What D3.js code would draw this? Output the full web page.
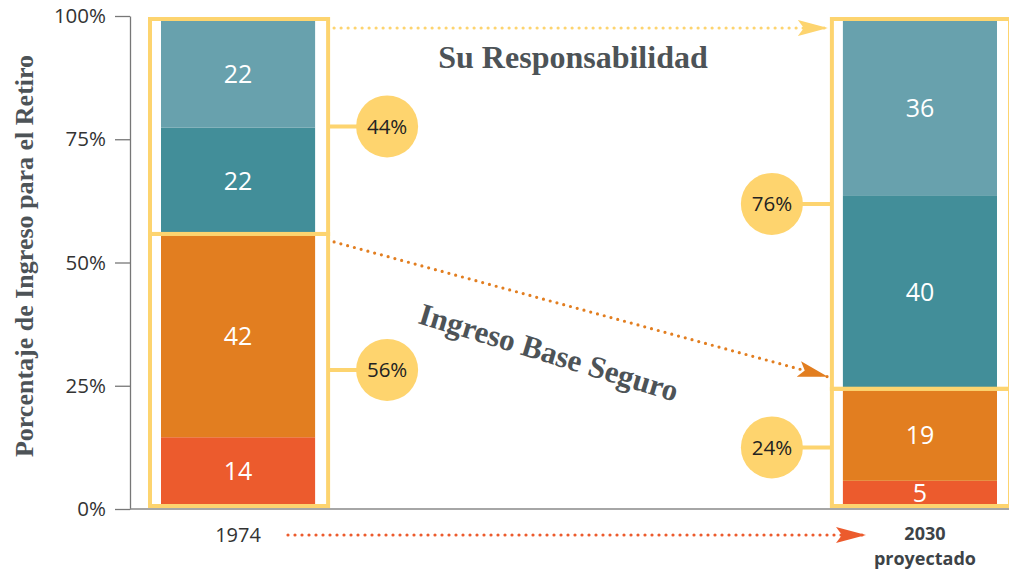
<!DOCTYPE html>
<html lang="es">
<head>
<meta charset="UTF-8">
<title>Porcentaje de Ingreso para el Retiro</title>
<script src="https://cdn.jsdelivr.net/npm/d3@7"></script>
<style>
  body { margin:0; background:#fff; }
  svg { display:block; }
  .sans { font-family: "Open Sans", "Noto Sans", sans-serif; }
  .serif { font-family: "Liberation Serif", "DejaVu Serif", serif; font-weight: bold; fill:#4d5357; }
</style>
</head>
<body>
<svg id="chart" width="1009" height="571"></svg>
<script>
// datos
const years = ["1974", "2030"];
const yearLabels = [["1974"], ["2030", "proyectado"]];
const layers = ["base1", "base2", "resp1", "resp2"];   // de abajo hacia arriba
const values1974 = [14, 42, 22, 22];
const values2030 = [5, 19, 40, 36];
const groups = [["base1", "base2"], ["resp1", "resp2"]]; // Ingreso Base Seguro / Su Responsabilidad
const yTicks = [0, 25, 50, 75, 100];

const colors = { base1: "#ec5b2d", base2: "#e27e20", resp1: "#428e99", resp2: "#68a1ad" };
const yellow = "#fdd46f";

const svg = d3.select("#chart");

const yAxisScale = d3.scaleLinear().domain([0, 100]).range([509, 16]);
const y = d3.scaleLinear().domain([0, 100]).range([505, 21]);
const x = d3.scaleBand().domain(years).range([161, 997]).paddingInner(0.774);

const rows = years.map((yr, i) => {
  const vals = i === 0 ? values1974 : values2030;
  const r = { year: yr };
  layers.forEach((k, j) => r[k] = vals[j]);
  return r;
});
const stack = d3.stack().keys(layers)(rows);

// eje y
const axis = svg.append("g")
  .attr("transform", "translate(130,0)")
  .call(d3.axisLeft(yAxisScale).tickValues(yTicks).tickFormat(d => d + "%").tickSize(15).tickSizeOuter(0).tickPadding(9));
axis.select(".domain").attr("stroke", "#777").attr("stroke-width", 1.3);
axis.selectAll(".tick line").attr("stroke", "#777").attr("stroke-width", 1.3);
axis.selectAll(".tick text").attr("class", "sans").attr("font-size", 20.5).attr("fill", "#333");

// línea base
svg.append("line")
  .attr("x1", 130).attr("x2", 1009)
  .attr("y1", yAxisScale(0)).attr("y2", yAxisScale(0))
  .attr("stroke", "#888").attr("stroke-width", 1.5);

// barras apiladas
stack.forEach(layer => {
  svg.append("g").selectAll("rect")
    .data(layer)
    .join("rect")
      .attr("x", d => x(d.data.year))
      .attr("width", x.bandwidth())
      .attr("y", d => y(d[1]))
      .attr("height", d => y(d[0]) - y(d[1]))
      .attr("fill", colors[layer.key]);
  svg.append("g").selectAll("text")
    .data(layer)
    .join("text")
      .attr("class", "sans")
      .attr("x", d => x(d.data.year) + x.bandwidth() / 2)
      .attr("y", d => (y(d[0]) + y(d[1])) / 2)
      .attr("dy", "0.36em")
      .attr("text-anchor", "middle")
      .attr("font-size", 25)
      .attr("fill", "#fff")
      .text(d => d[1] - d[0]);
});

// marcos amarillos y círculos
const marker = (id, col) => {
  svg.append("defs").append("marker")
    .attr("id", id)
    .attr("viewBox", "-30 -9 32 18")
    .attr("refX", 0).attr("refY", 0)
    .attr("markerWidth", 32).attr("markerHeight", 18)
    .attr("markerUnits", "userSpaceOnUse")
    .attr("orient", "auto")
    .append("path")
      .attr("d", "M0,0L-30,-8L-24,0L-30,8Z")
      .attr("fill", col);
};
marker("arrY", yellow);
marker("arrO", "#e27e20");
marker("arrR", "#ec5b2d");

years.forEach((yr, i) => {
  const row = rows[i];
  const x0 = x(yr) - 11, x1 = x(yr) + x.bandwidth() + 13;
  let acc = 0;
  groups.forEach(g => {
    const sum = d3.sum(g, k => row[k]);
    const lo = acc, hi = acc + sum;
    acc = hi;
    const top = hi === 100 ? y(100) - 2 : y(hi);
    const bot = lo === 0 ? y(0) + 1 : y(lo);
    svg.append("rect")
      .attr("x", x0).attr("y", top)
      .attr("width", x1 - x0).attr("height", bot - top)
      .attr("fill", "none").attr("stroke", yellow).attr("stroke-width", 4);
    const cy = (top + bot) / 2;
    const cx = i === 0 ? x1 + 59 : x0 - 60;
    svg.append("line")
      .attr("x1", i === 0 ? x1 : x0).attr("x2", cx)
      .attr("y1", cy).attr("y2", cy)
      .attr("stroke", yellow).attr("stroke-width", 4);
    svg.append("circle")
      .attr("cx", cx).attr("cy", cy).attr("r", 31)
      .attr("fill", "#fed46e");
    svg.append("text")
      .attr("class", "sans")
      .attr("x", cx).attr("y", cy).attr("dy", "0.36em")
      .attr("text-anchor", "middle")
      .attr("font-size", 20.5)
      .attr("fill", "#222")
      .text(sum + "%");
  });
});

// flechas punteadas
const dotted = (x1, y1, x2, y2, col, m) => svg.append("line")
  .attr("x1", x1).attr("y1", y1).attr("x2", x2).attr("y2", y2)
  .attr("stroke", col).attr("stroke-width", 3.2)
  .attr("stroke-linecap", "round")
  .attr("stroke-dasharray", "0 7")
  .attr("marker-end", `url(#${m})`);

const leftEdge = x(years[0]) + x.bandwidth() + 19;
const rightEdge = x(years[1]) - 15;
dotted(leftEdge, 28, rightEdge, 28, yellow, "arrY");
dotted(leftEdge, y(56) + 8, rightEdge, y(24) - 12, "#e27e20", "arrO");
dotted(288, 535, 866, 535, "#ec5b2d", "arrR");

// textos
svg.append("text")
  .attr("class", "serif")
  .attr("x", 573).attr("y", 68)
  .attr("text-anchor", "middle")
  .attr("font-size", 32)
  .text("Su Responsabilidad");

svg.append("text")
  .attr("class", "serif")
  .attr("transform", "translate(549,352) rotate(17)")
  .attr("dy", "0.35em")
  .attr("text-anchor", "middle")
  .attr("font-size", 31)
  .text("Ingreso Base Seguro");

svg.append("text")
  .attr("class", "serif")
  .attr("transform", "translate(33,256) rotate(-90)")
  .attr("text-anchor", "middle")
  .attr("font-size", 26)
  .text("Porcentaje de Ingreso para el Retiro");

// etiquetas del eje x
years.forEach((yr, i) => {
  const t = svg.append("text")
    .attr("class", "sans")
    .attr("text-anchor", "middle")
    .attr("font-size", i === 0 ? 20 : 18)
    .attr("font-weight", i === 0 ? 400 : 700)
    .attr("fill", i === 0 ? "#333" : "#3d4347");
  yearLabels[i].forEach((s, j) => {
    t.append("tspan")
      .attr("x", x(yr) + x.bandwidth() / 2 + (i === 0 ? 0 : 5))
      .attr("y", (i === 0 ? 542 : 540) + j * 25)
      .text(s);
  });
});
</script>
</body>
</html>
